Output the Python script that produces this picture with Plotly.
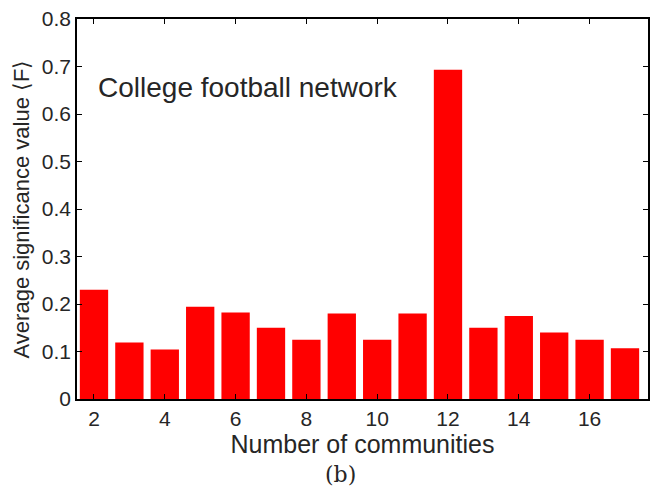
import plotly.graph_objects as go

communities = list(range(2, 18))
significance = [0.230, 0.119, 0.104, 0.194, 0.182, 0.150, 0.125, 0.180,
                0.125, 0.180, 0.693, 0.150, 0.175, 0.140, 0.125, 0.107]
x_ticks = [2, 4, 6, 8, 10, 12, 14, 16]
y_ticks = [0, 0.1, 0.2, 0.3, 0.4, 0.5, 0.6, 0.7, 0.8]
y_tick_text = ["0", "0.1", "0.2", "0.3", "0.4", "0.5", "0.6", "0.7", "0.8"]

FONT = "Liberation Sans, Arial, Helvetica, sans-serif"
TXT = "#262626"

fig = go.Figure(go.Bar(x=communities, y=significance, width=0.8,
                       marker=dict(color="#ff0000", line=dict(width=0))))

axis_common = dict(showline=True, linecolor="black", linewidth=1.5, mirror="ticks",
                   ticks="inside", ticklen=5, tickcolor="black", tickwidth=1,
                   showgrid=False, zeroline=False,
                   tickfont=dict(family=FONT, size=21, color=TXT))

fig.update_layout(
    width=657, height=487,
    margin=dict(l=77, r=7, t=16, b=88),
    paper_bgcolor="white", plot_bgcolor="white",
    showlegend=False,
    xaxis=dict(range=[1.52, 17.65], tickvals=x_ticks, **axis_common,
               title=dict(text="Number of communities", standoff=2,
                          font=dict(family=FONT, size=25, color=TXT))),
    yaxis=dict(range=[0, 0.8], tickvals=y_ticks, ticktext=y_tick_text, **axis_common,
               title=dict(text="Average significance value \u27e8F\u27e9", standoff=6,
                          font=dict(family=FONT, size=22, color=TXT))),
    annotations=[
        dict(text="College football network", xref="paper", yref="paper",
             x=0.033, y=0.82, xanchor="left", yanchor="middle", showarrow=False,
             font=dict(family=FONT, size=28, color=TXT)),
        dict(text="(b)", xref="paper", yref="paper", x=0.462, y=-0.198,
             xanchor="center", yanchor="middle", showarrow=False,
             font=dict(family="DejaVu Serif, serif", size=22, color=TXT)),
    ],
)

fig.write_html("out.html")
